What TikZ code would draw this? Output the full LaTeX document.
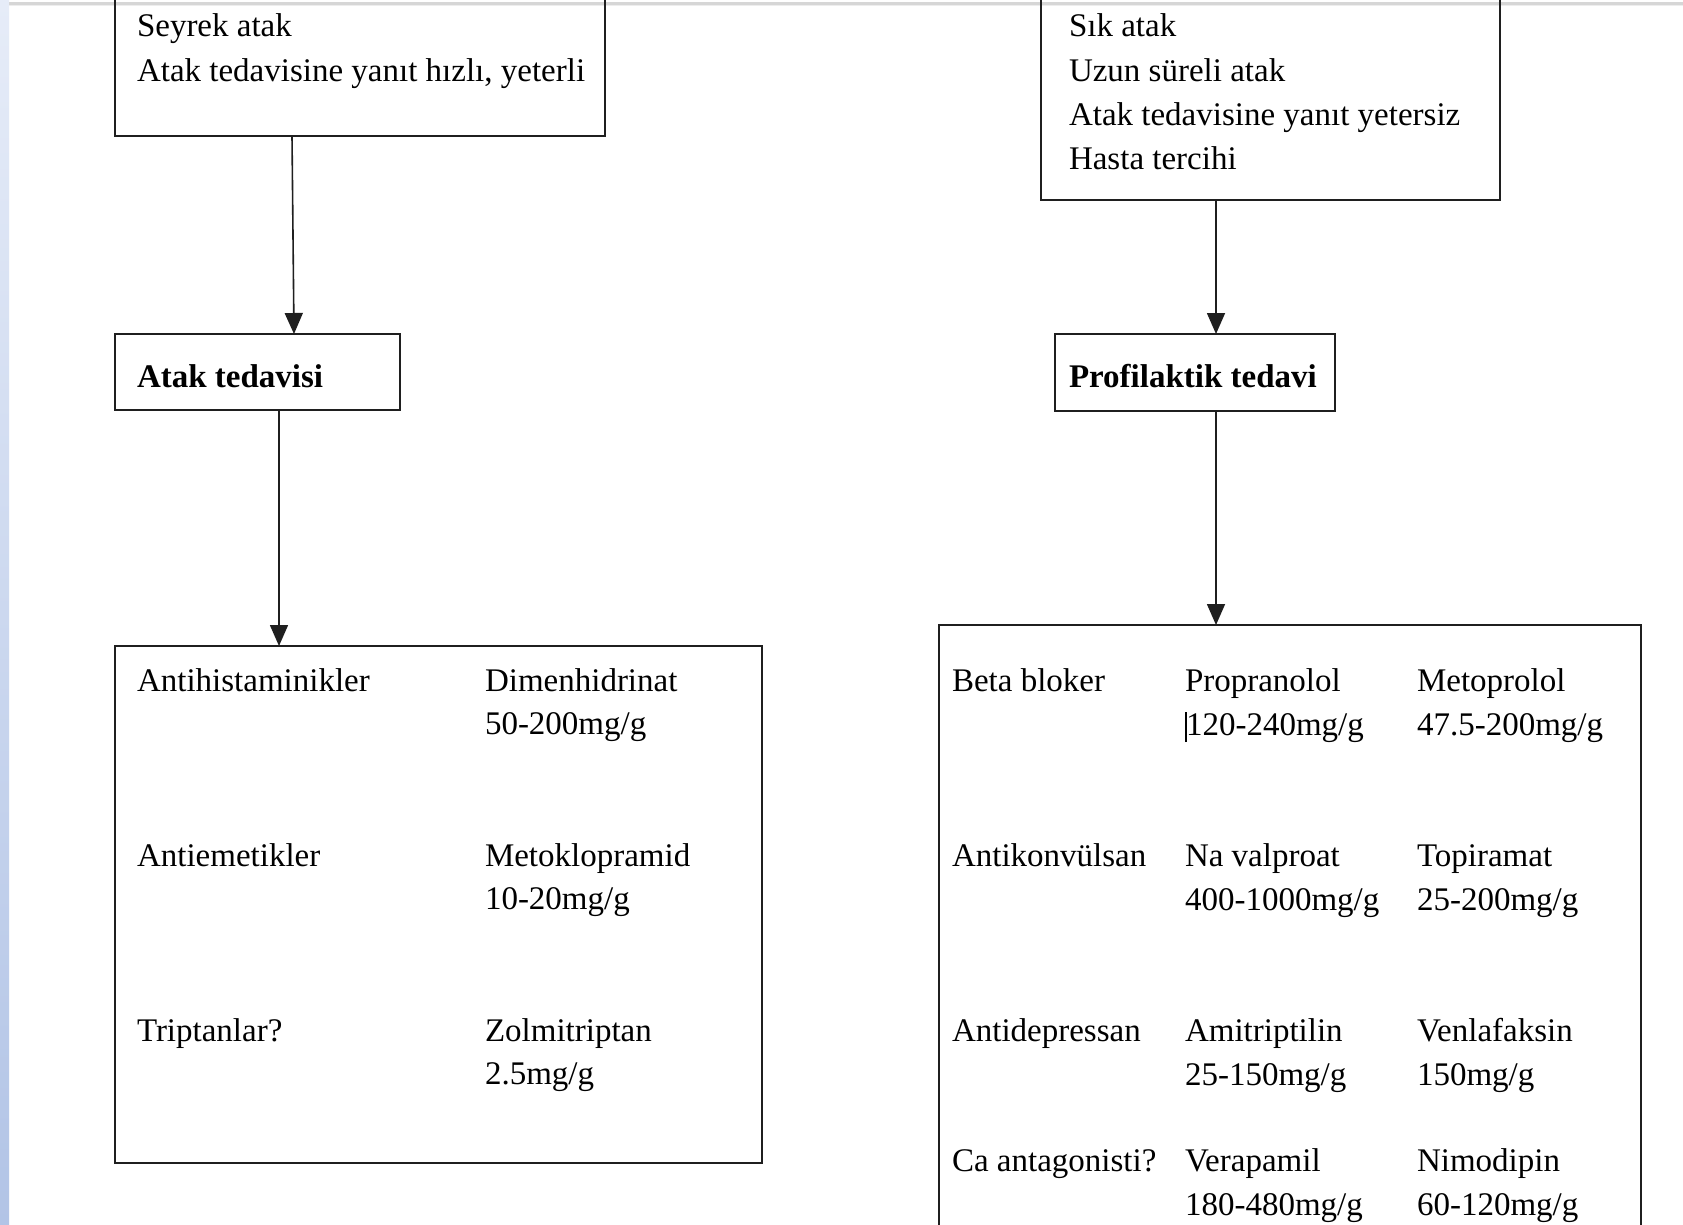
\documentclass[tikz,border=0pt]{standalone}
\usepackage{fontspec}
\setmainfont{Liberation Serif}
\usetikzlibrary{arrows.meta}
\definecolor{stripT}{HTML}{E6ECF8}
\definecolor{stripB}{HTML}{B2C4E6}
\begin{document}
\begin{tikzpicture}[x=1pt,y=-1pt,
  box/.style={draw=black!88, line width=1.6pt, inner sep=0pt, outer sep=0pt, anchor=north west},
  txt/.style={anchor=base west, inner sep=0pt, outer sep=0pt, font=\fontsize{33}{40}\selectfont},
  btxt/.style={anchor=base west, inner sep=0pt, outer sep=0pt, font=\fontsize{33}{40}\selectfont\bfseries},
  arr/.style={draw=black!88, line width=1.6pt, -{Triangle[length=21pt,width=18pt]}}]
\useasboundingbox (0,0) rectangle (1683,1225);
\clip (0,0) rectangle (1683,1225);
\fill[white] (0,0) rectangle (1683,1225);
\begin{scope}[y=1pt]
  \shade[top color=stripT, bottom color=stripB] (0,0) rectangle (9,-1225);
\end{scope}
\fill[black!16] (9,2) rectangle (1683,5);
\fill[black!7] (9,5) rectangle (1683,6.5);

% boxes
\node[box, minimum width=490pt, minimum height=156pt] (b1) at (115,-20) {};
\node[box, minimum width=285pt, minimum height=76pt] (b2) at (115,334) {};
\node[box, minimum width=647pt, minimum height=517pt] (b3) at (115,646) {};
\node[box, minimum width=459pt, minimum height=220pt] (r1) at (1041,-20) {};
\node[box, minimum width=280pt, minimum height=77pt] (r2) at (1055,334) {};
\node[box, minimum width=702pt, minimum height=700pt] (r3) at (939,625) {};

% arrow columns
\coordinate (a1s) at (292,0);
\coordinate (a1e) at (294,0);
\coordinate (a2) at (279,0);
\coordinate (a3) at (1216,0);
\draw[arr] (b1.south -| a1s) -- (b2.north -| a1e);
\draw[arr] (b2.south -| a2) -- (b3.north -| a2);
\draw[arr] (r1.south -| a3) -- (r2.north -| a3);
\draw[arr] (r2.south -| a3) -- (r3.north -| a3);

% top left texts
\node[txt] (t1a) at (137,37) {Seyrek atak};
\node[txt] (t1b) at (137,82) {Atak tedavisine yanıt hızlı, yeterli};
\node[btxt] (t2) at (137,387) {Atak tedavisi};

% top right texts
\node[txt] (s1a) at (1069,37) {Sık atak};
\node[txt] (s1b) at (1069,82) {Uzun süreli atak};
\node[txt] (s1c) at (1069,126) {Atak tedavisine yanıt yetersiz};
\node[txt] (s1d) at (1069,170) {Hasta tercihi};
\node[btxt] (s2) at (1069,387) {Profilaktik tedavi};

% left big box
\node[txt] (l11) at (137,691) {Antihistaminikler};
\node[txt] (l12) at (485,691) {Dimenhidrinat};
\node[txt] (l13) at (485,734) {50-200mg/g};
\node[txt] (l21) at (137,866) {Antiemetikler};
\node[txt] (l22) at (485,866) {Metoklopramid};
\node[txt] (l23) at (485,909) {10-20mg/g};
\node[txt] (l31) at (137,1041) {Triptanlar?};
\node[txt] (l32) at (485,1041) {Zolmitriptan};
\node[txt] (l33) at (485,1084) {2.5mg/g};

% right big box
\node[txt] (p11) at (952,691) {Beta bloker};
\node[txt] (p12) at (1185,691) {Propranolol};
\node[txt] (p13) at (1185,735) {\rule[-7pt]{1.5pt}{30pt}\kern-0.5pt 120-240mg/g};
\node[txt] (p14) at (1417,691) {Metoprolol};
\node[txt] (p15) at (1417,735) {47.5-200mg/g};
\node[txt] (p21) at (952,866) {Antikonvülsan};
\node[txt] (p22) at (1185,866) {Na valproat};
\node[txt] (p23) at (1185,910) {400-1000mg/g};
\node[txt] (p24) at (1417,866) {Topiramat};
\node[txt] (p25) at (1417,910) {25-200mg/g};
\node[txt] (p31) at (952,1041) {Antidepressan};
\node[txt] (p32) at (1185,1041) {Amitriptilin};
\node[txt] (p33) at (1185,1085) {25-150mg/g};
\node[txt] (p34) at (1417,1041) {Venlafaksin};
\node[txt] (p35) at (1417,1085) {150mg/g};
\node[txt] (p41) at (952,1171) {Ca antagonisti?};
\node[txt] (p42) at (1185,1171) {Verapamil};
\node[txt] (p43) at (1185,1215) {180-480mg/g};
\node[txt] (p44) at (1417,1171) {Nimodipin};
\node[txt] (p45) at (1417,1215) {60-120mg/g};
\end{tikzpicture}
\end{document}
